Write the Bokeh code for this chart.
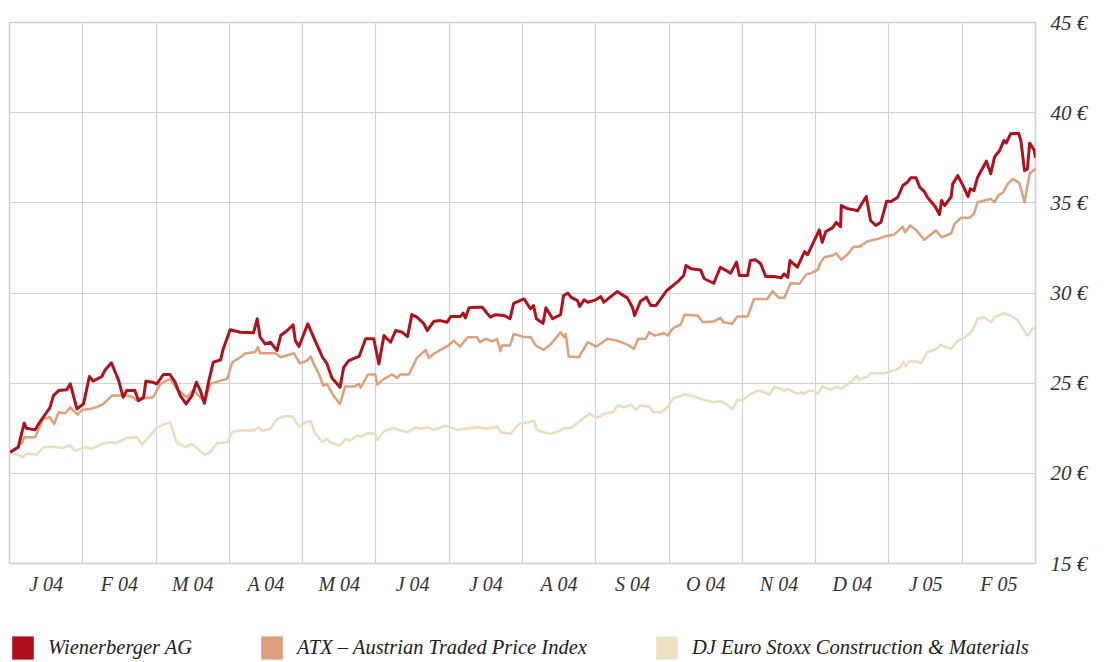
from bokeh.plotting import figure
from bokeh.layouts import column
from bokeh.models import (FixedTicker, CustomJSTickFormatter, Range1d, Legend, LegendItem,
                          ColumnDataSource)
from bokeh.embed import file_html
from bokeh.resources import INLINE

# ---- data (x = position in months from start of Jan 2004) ----
month_labels = ["J 04", "F 04", "M 04", "A 04", "M 04", "J 04", "J 04", "A 04",
                "S 04", "O 04", "N 04", "D 04", "J 05", "F 05"]
y_ticks = [15, 20, 25, 30, 35, 40, 45]

wb_x = [0.01, 0.12, 0.20, 0.23, 0.35, 0.39, 0.46, 0.55, 0.60, 0.67, 0.78, 0.83, 0.92, 1.01, 1.09, 1.14,
        1.26, 1.30, 1.39, 1.49, 1.55, 1.60, 1.71, 1.76, 1.83, 1.86, 1.96, 2.01, 2.10, 2.19, 2.26, 2.33,
        2.41, 2.49, 2.55, 2.60, 2.66, 2.72, 2.78, 2.88, 2.91, 3.01, 3.15, 3.33, 3.38, 3.42, 3.49, 3.56,
        3.65, 3.70, 3.79, 3.87, 3.90, 3.95, 4.07, 4.17, 4.27, 4.33, 4.40, 4.51, 4.56, 4.63, 4.77, 4.86,
        4.97, 5.04, 5.11, 5.20, 5.27, 5.36, 5.43, 5.49, 5.56, 5.65, 5.70, 5.79, 5.88, 5.97, 6.02, 6.15,
        6.19, 6.22, 6.27, 6.38, 6.45, 6.56, 6.63, 6.75, 6.83, 6.88, 7.02, 7.11, 7.15, 7.19, 7.28, 7.32,
        7.41, 7.52, 7.56, 7.62, 7.66, 7.75, 7.78, 7.84, 7.89, 8.00, 8.07, 8.11, 8.29, 8.43, 8.50, 8.53,
        8.61, 8.69, 8.75, 8.82, 8.97, 9.11, 9.20, 9.23, 9.30, 9.43, 9.48, 9.61, 9.70, 9.84, 9.92, 9.96,
        10.07, 10.11, 10.18, 10.25, 10.32, 10.43, 10.53, 10.57, 10.62, 10.65, 10.75, 10.85, 10.89, 11.05,
        11.09, 11.14, 11.23, 11.28, 11.34, 11.35, 11.44, 11.53, 11.57, 11.69, 11.75, 11.82, 11.89, 11.97,
        12.03, 12.12, 12.19, 12.25, 12.30, 12.37, 12.42, 12.48, 12.53, 12.63, 12.69, 12.72, 12.76, 12.85,
        12.87, 12.94, 13.01, 13.08, 13.11, 13.16, 13.21, 13.33, 13.39, 13.44, 13.51, 13.57, 13.60, 13.66,
        13.77, 13.80, 13.85, 13.89, 13.92, 13.98, 14.0]
wb_y = [21.17, 21.45, 22.78, 22.50, 22.41, 22.70, 23.11, 23.63, 24.31, 24.59, 24.63, 24.96, 23.57, 23.85, 25.37, 25.11,
        25.37, 25.70, 26.13, 25.14, 24.22, 24.59, 24.59, 24.03, 24.22, 25.11, 25.05, 24.96, 25.48, 25.48, 25.05, 24.31,
        23.85, 24.31, 25.05, 24.63, 23.89, 25.14, 26.16, 26.29, 26.81, 27.96, 27.82, 27.79, 28.57, 27.55, 27.17, 27.27,
        26.81, 27.64, 27.92, 28.23, 27.36, 27.03, 28.29, 27.36, 26.44, 26.10, 25.29, 24.77, 25.88, 26.25, 26.48, 27.46,
        27.46, 26.07, 27.64, 27.27, 27.92, 27.82, 27.58, 28.80, 28.66, 28.32, 27.92, 28.43, 28.47, 28.38, 28.69, 28.69,
        28.88, 28.62, 29.18, 29.21, 29.21, 28.66, 28.80, 28.75, 28.57, 29.43, 29.67, 29.12, 29.30, 28.57, 28.32, 29.18,
        28.57, 28.80, 29.86, 29.99, 29.77, 29.58, 29.25, 29.62, 29.49, 29.62, 29.80, 29.49, 30.08, 29.73, 29.21, 28.75,
        29.54, 29.77, 29.30, 29.30, 30.14, 30.60, 30.97, 31.52, 31.34, 31.28, 30.79, 30.54, 31.43, 31.10, 31.71, 30.97,
        30.97, 31.80, 31.84, 31.62, 30.91, 30.91, 30.84, 31.06, 30.87, 31.80, 31.43, 32.30, 32.12, 33.50,
        32.81, 33.42, 33.61, 33.92, 33.68, 34.85, 34.67, 34.61, 34.55, 35.35, 34.02, 33.74, 33.92, 35.09,
        35.07, 35.31, 35.96, 36.14, 36.39, 36.39, 35.87, 35.64, 35.28, 34.80, 34.35, 35.13, 34.85, 35.35,
        36.05, 36.51, 35.96, 35.35, 35.78, 35.68, 36.42, 37.31, 36.61, 37.53, 37.90, 38.46, 38.31, 38.83,
        38.86, 38.46, 36.79, 36.88, 38.31, 37.94, 37.50]

atx_x = [0.01, 0.17, 0.20, 0.35, 0.39, 0.46, 0.55, 0.61, 0.67, 0.76, 0.83, 0.87, 0.93, 0.99, 1.10, 1.19,
         1.28, 1.40, 1.55, 1.67, 1.74, 1.87, 1.96, 2.06, 2.19, 2.28, 2.42, 2.51, 2.60, 2.66, 2.74, 2.88,
         2.97, 3.04, 3.15, 3.22, 3.35, 3.39, 3.42, 3.63, 3.70, 3.88, 3.96, 4.06, 4.11, 4.15, 4.22, 4.28,
         4.33, 4.42, 4.51, 4.58, 4.70, 4.77, 4.79, 4.89, 4.99, 5.02, 5.11, 5.22, 5.29, 5.33, 5.45, 5.56,
         5.68, 5.72, 5.79, 5.93, 5.99, 6.06, 6.15, 6.25, 6.38, 6.42, 6.50, 6.59, 6.65, 6.70, 6.72, 6.83,
         6.88, 7.00, 7.11, 7.18, 7.29, 7.38, 7.52, 7.57, 7.59, 7.63, 7.77, 7.89, 8.01, 8.16, 8.29, 8.43,
         8.52, 8.58, 8.68, 8.73, 8.80, 8.93, 8.98, 9.06, 9.16, 9.21, 9.39, 9.46, 9.61, 9.70, 9.74, 9.86,
         9.93, 10.07, 10.12, 10.16, 10.34, 10.41, 10.50, 10.57, 10.66, 10.78, 10.87, 10.94, 11.03, 11.06,
         11.12, 11.23, 11.28, 11.35, 11.44, 11.52, 11.60, 11.71, 11.85, 11.94, 12.07, 12.19, 12.22, 12.29,
         12.37, 12.48, 12.64, 12.72, 12.85, 12.89, 12.98, 13.10, 13.16, 13.21, 13.39, 13.44, 13.49, 13.56,
         13.62, 13.69, 13.78, 13.85, 13.92, 14.0]
atx_y = [21.17, 21.67, 22.00, 22.00, 22.37, 23.02, 23.11, 22.74, 23.39, 23.33, 23.66, 23.48, 23.26, 23.52, 23.57, 23.66,
         23.85, 24.31, 24.31, 24.26, 24.03, 24.18, 24.22, 24.96, 25.24, 24.68, 24.22, 24.63, 24.22, 23.94, 24.96, 25.14,
         25.24, 26.16, 26.44, 26.66, 26.72, 27.00, 26.66, 26.66, 26.44, 26.66, 26.10, 26.25, 26.48, 26.07, 25.52, 24.87,
         24.96, 24.31, 23.85, 24.81, 24.81, 24.96, 24.74, 25.48, 25.48, 24.92, 25.24, 25.48, 25.29, 25.48, 25.48, 26.40,
         26.85, 26.40, 26.63, 26.96, 27.09, 27.36, 27.03, 27.55, 27.55, 27.27, 27.46, 27.31, 27.46, 26.77, 27.09, 27.09,
         27.73, 27.58, 27.55, 27.09, 26.85, 27.14, 27.82, 27.55, 27.73, 26.48, 26.44, 27.27, 27.03, 27.46, 27.36, 27.14,
         26.90, 27.46, 27.46, 27.82, 27.64, 27.77, 27.64, 28.07, 28.25, 28.80, 28.75, 28.38, 28.43, 28.62, 28.38, 28.29,
         28.69, 28.69, 29.25, 29.67, 29.67, 30.10, 29.73, 29.73, 30.54, 30.51, 31.02, 31.10, 31.28, 31.65,
         31.98, 32.08, 32.20, 31.84, 32.17, 32.57, 32.57, 32.87, 33.00, 33.13, 33.24, 33.68, 33.37, 33.74,
         33.50, 32.95, 33.46, 33.09, 33.31, 33.80, 34.17, 34.17, 34.39, 35.03, 35.22, 35.03, 35.40, 35.59,
         36.05, 36.33, 36.09, 35.03, 36.61, 36.89]

dj_x = [0.01, 0.12, 0.18, 0.23, 0.37, 0.46, 0.62, 0.73, 0.83, 0.89, 1.05, 1.12, 1.24, 1.37, 1.46, 1.60,
        1.74, 1.81, 1.90, 2.01, 2.19, 2.28, 2.40, 2.49, 2.66, 2.74, 2.83, 2.97, 3.04, 3.15, 3.33, 3.40,
        3.45, 3.56, 3.65, 3.74, 3.86, 3.95, 4.04, 4.11, 4.17, 4.27, 4.33, 4.38, 4.51, 4.58, 4.65, 4.74,
        4.81, 4.88, 4.99, 5.02, 5.11, 5.24, 5.31, 5.43, 5.54, 5.61, 5.70, 5.79, 5.95, 6.11, 6.29, 6.40,
        6.52, 6.66, 6.70, 6.84, 6.91, 6.97, 7.09, 7.16, 7.19, 7.29, 7.38, 7.52, 7.57, 7.66, 7.79, 7.91,
        8.01, 8.14, 8.23, 8.30, 8.39, 8.48, 8.55, 8.61, 8.73, 8.79, 8.89, 8.98, 9.05, 9.21, 9.34, 9.48,
        9.61, 9.70, 9.77, 9.87, 9.93, 10.00, 10.12, 10.21, 10.28, 10.37, 10.43, 10.53, 10.57, 10.62, 10.75,
        10.81, 10.84, 10.91, 10.98, 11.03, 11.09, 11.20, 11.30, 11.34, 11.44, 11.51, 11.56, 11.59, 11.71,
        11.75, 11.94, 12.03, 12.12, 12.16, 12.20, 12.23, 12.28, 12.39, 12.44, 12.52, 12.62, 12.67, 12.70,
        12.76, 12.85, 12.94, 13.03, 13.14, 13.21, 13.30, 13.39, 13.45, 13.57, 13.66, 13.76, 13.89, 13.95, 14.0]
dj_y = [21.08, 21.04, 20.89, 21.08, 21.04, 21.45, 21.48, 21.41, 21.54, 21.26, 21.45, 21.36, 21.59, 21.72, 21.67, 21.96,
        22.00, 21.59, 22.00, 22.55, 22.83, 21.72, 21.45, 21.63, 21.04, 21.17, 21.67, 21.72, 22.31, 22.37, 22.37, 22.55,
        22.35, 22.47, 23.02, 23.15, 23.17, 22.59, 22.83, 22.89, 22.22, 21.72, 21.91, 21.72, 21.54, 21.91, 21.82, 22.09,
        22.04, 22.22, 22.19, 21.86, 22.33, 22.52, 22.41, 22.28, 22.55, 22.47, 22.55, 22.41, 22.65, 22.41, 22.52, 22.55,
        22.47, 22.59, 22.28, 22.19, 22.55, 22.78, 22.83, 22.92, 22.41, 22.28, 22.19, 22.37, 22.52, 22.52, 22.92, 23.30,
        23.08, 23.33, 23.39, 23.76, 23.66, 23.81, 23.52, 23.76, 23.70, 23.39, 23.39, 23.66, 24.13, 24.37, 24.26, 24.07,
        23.94, 24.00, 23.85, 23.57, 24.07, 24.05, 24.41, 24.59, 24.52, 24.37, 24.77, 24.68, 24.59, 24.68, 24.41,
        24.50, 24.41, 24.59, 24.55, 24.41, 24.81, 24.65, 24.81, 24.68, 24.96, 25.18, 25.42, 25.18, 25.37,
        25.55, 25.55, 25.66, 25.79, 25.92, 26.20, 25.92, 26.20, 26.20, 26.10, 26.71, 26.85, 26.96, 27.14,
        27.03, 26.90, 27.36, 27.51, 27.92, 28.57, 28.66, 28.38, 28.69, 28.88, 28.75, 28.47, 27.64, 27.96, 28.14]

series_names = ["Wienerberger AG", "ATX – Austrian Traded Price Index",
                "DJ Euro Stoxx Construction & Materials"]
series_colors = ["#b0121b", "#e0a07c", "#eddcbd"]
legend_colors = ["#b0101a", "#dd9f7b", "#efe1c6"]

FONT = "Liberation Serif"
TXT = "#333333"
NAN = float("nan")

# ---------------- main chart ----------------
p = figure(width=1108, height=633, output_backend="svg", toolbar_location=None,
           x_range=Range1d(0, 14), y_range=Range1d(15, 45), y_axis_location="right",
           min_border_top=22, min_border_left=9, min_border_right=73, min_border_bottom=70)

p.outline_line_color = "#cfcfcf"
p.outline_line_width = 1.5
p.background_fill_color = "white"
p.border_fill_color = "white"

p.xgrid.ticker = FixedTicker(ticks=list(range(15)))
p.ygrid.ticker = FixedTicker(ticks=y_ticks)
for g in (p.xgrid, p.ygrid):
    g.grid_line_color = "#d2d2d2"
    g.grid_line_width = 1.2

xa = p.xaxis[0]
xa.ticker = FixedTicker(ticks=[i + 0.5 for i in range(len(month_labels))])
xa.formatter = CustomJSTickFormatter(args=dict(labels=month_labels),
                                     code="return labels[Math.floor(tick)];")

ya = p.yaxis[0]
ya.ticker = FixedTicker(ticks=y_ticks)
ya.formatter = CustomJSTickFormatter(code="return tick + ' €';")

for ax in (xa, ya):
    ax.axis_line_color = None
    ax.major_tick_line_color = None
    ax.minor_tick_line_color = None
    ax.major_label_text_font = FONT
    ax.major_label_text_font_style = "italic"
    ax.major_label_text_font_size = "20px"
    ax.major_label_text_color = TXT
ya.major_label_text_font_size = "21px"
xa.major_label_standoff = 3
ya.major_label_standoff = 9

xs = [wb_x, atx_x, dj_x]
ys = [wb_y, atx_y, dj_y]
widths = [3, 2.5, 2.5]
for i in (2, 1, 0):
    src = ColumnDataSource(dict(x=xs[i], y=ys[i]))
    p.line("x", "y", source=src, line_color=series_colors[i], line_width=widths[i],
           line_join="round")

# ---------------- legend strip ----------------
lp = figure(width=1108, height=29, output_backend="svg", toolbar_location=None,
            x_axis_location=None, y_axis_location=None,
            min_border_top=0, min_border_bottom=0, min_border_left=9, min_border_right=0)
lp.outline_line_color = None
lp.xgrid.visible = False
lp.ygrid.visible = False
lp.background_fill_color = "white"
lp.border_fill_color = "white"

items = []
for name, col in zip(series_names, legend_colors):
    r = lp.quad(left=[NAN], right=[NAN], top=[NAN], bottom=[NAN], fill_color=col, line_color=None)
    items.append(LegendItem(label=name, renderers=[r]))

legend = Legend(items=items, orientation="horizontal", location="top_left",
                glyph_width=27, glyph_height=29, label_standoff=12, spacing=66,
                padding=0, margin=0, border_line_color=None, background_fill_alpha=0,
                label_text_font=FONT, label_text_font_style="italic",
                label_text_font_size="20.5px", label_text_color="#222222")
lp.add_layout(legend, "center")

layout = column(p, lp, spacing=0)
open("out.html", "w").write(file_html(layout, INLINE))
